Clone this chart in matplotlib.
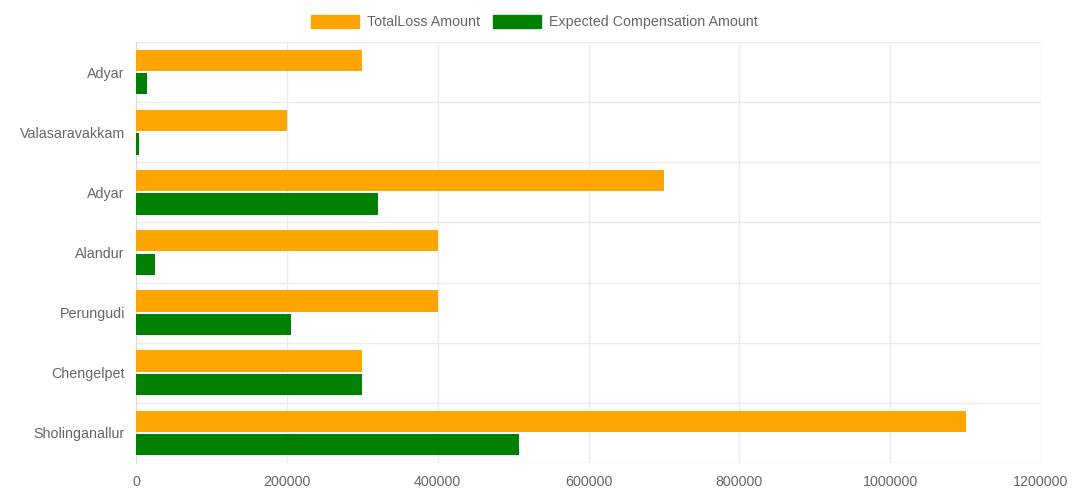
import numpy as np
import matplotlib
matplotlib.use("Agg")
import matplotlib.pyplot as plt
from matplotlib.patches import Rectangle

plt.rcParams['font.family'] = ['Liberation Sans', 'DejaVu Sans']

# data
areas = ['Adyar', 'Valasaravakkam', 'Adyar', 'Alandur', 'Perungudi', 'Chengelpet', 'Sholinganallur']
total_loss = [300000, 200000, 700000, 400000, 400000, 300000, 1100000]
expected_comp = [14000, 4000, 321000, 25000, 206000, 300000, 508000]
xticks = [0, 200000, 400000, 600000, 800000, 1000000, 1200000]

fs = 10.3
fig = plt.figure(figsize=(10.84, 4.99), dpi=100)
ax = fig.add_axes([136 / 1084, 1 - 463 / 499, (1041 - 136) / 1084, (463 - 42) / 499])

y = np.arange(len(areas))
h = 0.355
ax.barh(y - 0.195, total_loss, height=h, color='#FFA500', zorder=3)
ax.barh(y + 0.195, expected_comp, height=h, color='#008000', zorder=3)

ax.set_xlim(0, 1200000)
ax.set_ylim(len(areas) - 0.5, -0.5)
ax.set_xticks(xticks)
ax.set_xticklabels([str(v) for v in xticks])
ax.set_yticks(y)
ax.set_yticklabels(areas)
ax.set_yticks(np.arange(len(areas) + 1) - 0.5, minor=True)

# grid like chart.js: vertical at ticks, horizontal between categories
ax.grid(True, axis='x', which='major', color='#ebebeb', lw=1, zorder=0)
ax.grid(True, axis='y', which='minor', color='#ebebeb', lw=1, zorder=0)
ax.tick_params(axis='y', which='both', length=0, labelsize=fs, labelcolor='#666666', pad=8)
ax.tick_params(axis='x', length=0, labelsize=fs, labelcolor='#666666', pad=9)
for side in ['top', 'right', 'bottom']:
    ax.spines[side].set_visible(False)
ax.spines['left'].set_color('#d9d9d9')

# legend drawn by hand at the top
def legend_item(x0, color, label):
    fig.patches.append(Rectangle((x0 / 1084, 1 - 28 / 499), 48 / 1084, 13 / 499,
                                 transform=fig.transFigure, color=color))
    fig.text((x0 + 56) / 1084, 1 - 22 / 499, label, fontsize=fs, color='#666666',
             va='center', ha='left')

legend_item(311, '#FFA500', 'TotalLoss Amount')
legend_item(493, '#008000', 'Expected Compensation Amount')

fig.savefig('out.png', dpi=100)
